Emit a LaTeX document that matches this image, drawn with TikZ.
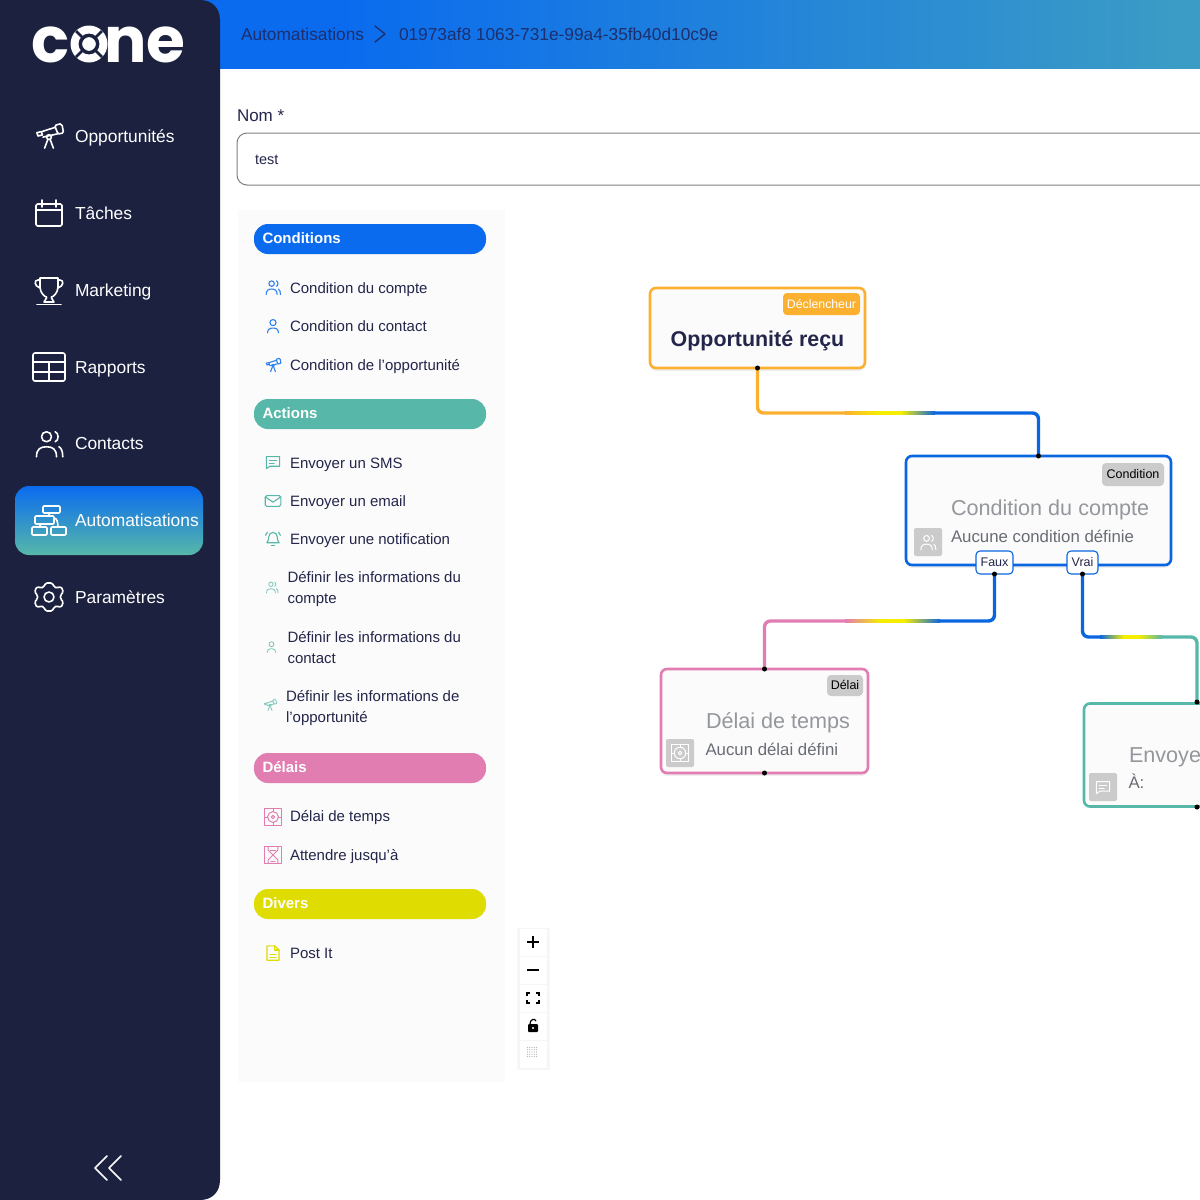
\documentclass[tikz,border=0pt]{standalone}
\usepackage{fontspec}
\setmainfont{Liberation Sans}
\newfontfamily\logofont{Poppins}
\usetikzlibrary{shadows,calc}
\definecolor{navy}{HTML}{1C2140}
\definecolor{hdrL}{HTML}{0A6BEF}
\definecolor{hdrR}{HTML}{3C9DC4}
\definecolor{crumb}{HTML}{1C2F6E}
\definecolor{cblue}{HTML}{0A66E0}
\definecolor{cteal}{HTML}{57B8A9}
\definecolor{cpink}{HTML}{E27DB1}
\definecolor{cyell}{HTML}{DEDC00}
\definecolor{corange}{HTML}{FBB12F}
\definecolor{panel}{HTML}{FBFBFB}
\definecolor{itemtxt}{HTML}{23264A}
\definecolor{tagg}{HTML}{CBCBCB}
\definecolor{ttl}{HTML}{94979C}
\definecolor{sub}{HTML}{686C74}
\definecolor{lineY}{HTML}{F6EE00}
\pgfdeclarehorizontalshading{hdrshade}{100bp}{color(0bp)=(hdrL); color(32bp)=(hdrL); color(75bp)=(hdrR); color(100bp)=(hdrR)}
\pgfdeclarehorizontalshading{gradOB}{100bp}{color(0bp)=(corange); color(25bp)=(corange); color(44bp)=(lineY); color(56bp)=(lineY); color(75bp)=(cblue); color(100bp)=(cblue)}
\pgfdeclarehorizontalshading{gradPB}{100bp}{color(0bp)=(cpink); color(25bp)=(cpink); color(44bp)=(lineY); color(56bp)=(lineY); color(75bp)=(cblue); color(100bp)=(cblue)}
\pgfdeclarehorizontalshading{gradBT}{100bp}{color(0bp)=(cblue); color(25bp)=(cblue); color(44bp)=(lineY); color(56bp)=(lineY); color(75bp)=(cteal); color(100bp)=(cteal)}
\tikzset{
 every node/.style={inner sep=0pt,outer sep=0pt},
 navtxt/.style={anchor=west,text=white,text height=15pt,text depth=3pt,font=\fontsize{17.4}{20}\selectfont},
 itemlab/.style={anchor=west,text=itemtxt,text height=13pt,text depth=3pt,font=\fontsize{15}{21}\selectfont},
 itemtwo/.style={anchor=west,text=itemtxt,align=left,font=\fontsize{15}{21}\selectfont},
 pilltxt/.style={anchor=west,text=white,text height=13pt,text depth=3.6pt,font=\fontsize{15}{18}\selectfont\bfseries},
 crumbtxt/.style={anchor=west,text=crumb,text height=15pt,text depth=3pt,font=\fontsize{17.3}{20}\selectfont},
 pill/.style={rounded corners=14pt},
 flow/.style={draw,line width=2.6pt,rounded corners=6pt,fill=panel,
   drop shadow={opacity=.12,shadow xshift=0pt,shadow yshift=-3pt}},
 flowln/.style={line width=3.4pt,rounded corners=6pt},
 tagbox/.style={rounded corners=4pt,fill=tagg},
 tagtxt/.style={text=black,text height=11pt,text depth=2.5pt,font=\fontsize{12.5}{14}\selectfont},
 ttltxt/.style={anchor=west,text=ttl,text height=16pt,text depth=2pt,font=\fontsize{21.6}{26}\selectfont},
 subtxt/.style={anchor=west,text=sub,text height=14pt,text depth=3pt,font=\fontsize{16.8}{20}\selectfont},
 outtag/.style={draw=cblue,line width=1.1pt,fill=white,rounded corners=4pt,text=itemtxt,text height=11pt,text depth=2.5pt,font=\fontsize{12.5}{14}\selectfont},
 ctrl/.style={fill=white,draw=black!4,line width=.6pt},
 ic/.style={line width=1.1pt,line cap=round,line join=round},
 % icons drawn in a 24-unit box centred on the origin, y pointing down
 ic users/.pic={
   \draw[pic actions] (-2,-5) circle[radius=4];
   \draw[pic actions] (-10,11) .. controls (-10,5) and (-7,3) .. (-2,3) .. controls (3,3) and (6,5) .. (6,11);
   \draw[pic actions] (5,-9) .. controls (8,-8) and (8,-2) .. (5,-1);
   \draw[pic actions] (8,3) .. controls (10,4) and (11,7) .. (11,11);},
 ic user/.pic={
   \draw[pic actions] (0,-5) circle[radius=4.5];
   \draw[pic actions] (-8,10) .. controls (-8,5) and (-5,3) .. (0,3) .. controls (5,3) and (8,5) .. (8,10);},
 ic scope/.pic={
   \draw[pic actions] (-11,-3) -- (-10,0) -- (-6,-1) -- (-7,-4) -- cycle;
   \draw[pic actions] (-6.5,-4) -- (6,-8) (8,-2) -- (-5.5,1);
   \draw[pic actions] (6.5,-10) -- (10,-11) .. controls (11,-11) and (11.5,-10.5) .. (12,-9.5) -- (13,-4) .. controls (13,-3) and (12.5,-2.5) .. (12,-2.5) -- (9,-2) .. controls (8,-2) and (8,-2.5) .. (7.5,-3.5) -- (5.5,-8.5) .. controls (5.5,-9.5) and (6,-10) .. (6.5,-10) -- cycle;
   \draw[pic actions] (0,1) circle[radius=2.2];
   \draw[pic actions] (-1,3) -- (-4,11) (1,3) -- (4,11);},
 ic cal/.pic={
   \draw[pic actions,rounded corners=1.5pt] (-13,-9) rectangle (13,13);
   \draw[pic actions] (-13,-3) -- (13,-3) (-7,-13) -- (-7,-6) (7,-13) -- (7,-6);},
 ic cup/.pic={
   \draw[pic actions] (-9,-12) -- (9,-12) -- (9,-3) .. controls (9,3) and (4,7) .. (2.5,7) -- (2.5,8) -- (5,12) -- (-5,12) -- (-2.5,8) -- (-2.5,7) .. controls (-4,7) and (-9,3) .. (-9,-3) -- cycle;
   \draw[pic actions] (-9,-10) -- (-11,-10) .. controls (-15,-10) and (-15,-4) .. (-9,-2);
   \draw[pic actions] (9,-10) -- (11,-10) .. controls (15,-10) and (15,-4) .. (9,-2);
   \draw[pic actions] (-12,14.5) -- (12,14.5);},
 ic table/.pic={
   \draw[pic actions,rounded corners=2pt] (-16,-14) rectangle (16,14);
   \draw[pic actions] (-16,-5) -- (16,-5) (-16,5) -- (16,5) (0,-5) -- (0,14);},
 ic flow/.pic={
   \draw[pic actions,rounded corners=1pt] (-6,-14) rectangle (11,-7);
   \draw[pic actions,rounded corners=1pt] (-14,-4) rectangle (5,4);
   \draw[pic actions,rounded corners=1pt] (-17,7) rectangle (-2,15);
   \draw[pic actions,rounded corners=1pt] (2,7) rectangle (17,15);
   \draw[pic actions] (0,-7) -- (0,-4) (-9,4) -- (-9,7);
   \draw[pic actions] (5,-2) .. controls (8,-2) and (9,3) .. (9,7);},
 ic gear/.pic={
   \draw[pic actions] (0,0) circle[radius=5];
   \draw[pic actions,rounded corners=1.5pt] (-3.5,-14) -- (3.5,-14) -- (5,-10) -- (8,-9) -- (12,-10.5) -- (14.5,-5) -- (11.5,-2) -- (11.5,2) -- (14.5,5) -- (12,10.5) -- (8,9) -- (5,10) -- (3.5,14) -- (-3.5,14) -- (-5,10) -- (-8,9) -- (-12,10.5) -- (-14.5,5) -- (-11.5,2) -- (-11.5,-2) -- (-14.5,-5) -- (-12,-10.5) -- (-8,-9) -- (-5,-10) -- cycle;},
 ic chat/.pic={
   \draw[pic actions] (-11,-9) -- (11,-9) -- (11,7) -- (-5,7) -- (-11,11) -- cycle;
   \draw[pic actions] (-6,-3) -- (6,-3) (-6,2) -- (2,2);},
 ic mail/.pic={
   \draw[pic actions,rounded corners=1.5pt] (-13,-9) rectangle (13,9);
   \draw[pic actions] (-13,-7) -- (0,2) -- (13,-7);},
 ic bell/.pic={
   \draw[pic actions] (-10,6) .. controls (-7,3) and (-7,0) .. (-7,-3) .. controls (-7,-13) and (7,-13) .. (7,-3) .. controls (7,0) and (7,3) .. (10,6) -- cycle;
   \draw[pic actions] (-2.5,10) -- (2.5,10);
   \draw[pic actions] (-9,-11) -- (-12,-6) (9,-11) -- (12,-6);},
 ic timer/.pic={
   \draw[pic actions] (-12,-12) rectangle (12,12);
   \draw[pic actions] (0,0) circle[radius=8];
   \draw[pic actions] (0,0) circle[radius=2.5];
   \draw[pic actions] (-12,0) -- (-8,0) (8,0) -- (12,0) (0,-12) -- (0,-8) (0,8) -- (0,12);},
 ic glass/.pic={
   \draw[pic actions] (-12,-12) rectangle (12,12);
   \draw[pic actions] (-7,-12) -- (-7,-7) -- (7,7) -- (7,12) (7,-12) -- (7,-7) -- (-7,7) -- (-7,12);
   \draw[pic actions] (-4,-6) -- (4,-6) (-3,10) -- (3,10);},
 ic note/.pic={
   \draw[pic actions] (-10,-12) -- (3,-12) -- (10,-5) -- (10,12) -- (-10,12) -- cycle;
   \draw[pic actions] (3,-12) -- (3,-5) -- (10,-5);
   \draw[pic actions] (-5,2) -- (5,2) (-5,7) -- (5,7);},
}
\newcommand{\sideitem}[4]{%
  \pic[draw=white,ic,line width=1.6pt,scale=#4] at (49,#1) {#2};
  \node[navtxt] at (75,#1) {#3};}
\begin{document}
\begin{tikzpicture}[x=1pt,y=-1pt]
\useasboundingbox (0,0) rectangle (1200,1200);
\fill[white] (0,0) rectangle (1200,1200);
% header
\shade[shading=hdrshade] (200,0) rectangle (1200,68);
\node[crumbtxt] (crumbA) at (241,34) {Automatisations};
\coordinate (chevA) at (375,26);
\draw[crumb,line width=1.4pt,line cap=round,line join=round] (chevA) -- ++(10,8) -- ++(-10,8);
\node[crumbtxt] (crumbB) at (399,34) {01973af8 1063-731e-99a4-35fb40d10c9e};
% sidebar
\fill[navy] (0,0) -- (200,0) .. controls (212,0) and (220,8) .. (220,20) -- (220,1180) .. controls (220,1192) and (212,1200) .. (200,1200) -- (0,1200) -- cycle;
% logo
\node[anchor=base west,text=white,font=\logofont\fontsize{63}{63}\selectfont\bfseries] (logoC) at (31,62) {c};
\node[anchor=base west,text=white,font=\logofont\fontsize{63}{63}\selectfont\bfseries] (logoN) at (104.5,62) {ne};
\fill[white] (89,44) circle[radius=18.5];
\draw[navy,line width=2.8pt] (76,31) -- (102,57) (102,31) -- (76,57);
\draw[navy,line width=3.6pt] (89,44) circle[radius=8.6];
\fill[white] (89,44) circle[radius=6.6];
% sidebar selection
\shade[top color=hdrL,bottom color=cteal,rounded corners=14pt] (15,486) rectangle (203,555);
\sideitem{136}{ic scope}{Opportunités}{1.1}
\sideitem{213}{ic cal}{Tâches}{1}
\sideitem{290}{ic cup}{Marketing}{1}
\sideitem{367}{ic table}{Rapports}{1}
\sideitem{443}{ic users}{Contacts}{1.25}
\sideitem{520}{ic flow}{Automatisations}{1}
\sideitem{597}{ic gear}{Paramètres}{1}
\coordinate (collapse) at (108,1168);
\draw[white,line width=1.5pt,line cap=round,line join=round] ($(collapse)+(-1,-12)$) -- ++(-12,12) -- ++(12,12) ($(collapse)+(13,-12)$) -- ++(-12,12) -- ++(12,12);
% name field
\node[anchor=west,text=itemtxt,text height=15pt,text depth=3pt,font=\fontsize{17}{20}\selectfont] (nomlab) at (237,115) {Nom *};
\draw[black!50,line width=1pt,fill=white,rounded corners=10pt] (237,133) rectangle (1225,185);
\node[anchor=west,text=itemtxt,text height=13pt,text depth=3pt,font=\fontsize{14.5}{17}\selectfont] (nomval) at (255,159) {test};
% palette panel
\fill[panel] (238,210) rectangle (505,1082);
\fill[hdrL,pill] (254,224) rectangle (486,254);
\node[pilltxt] (pA) at (262.5,239) {Conditions};
\fill[cteal,pill] (254,399) rectangle (486,429);
\node[pilltxt] (pB) at (262.5,414) {Actions};
\fill[cpink,pill] (254,753) rectangle (486,783);
\node[pilltxt] (pC) at (262.5,768) {Délais};
\fill[cyell,pill] (254,889) rectangle (486,919);
\node[pilltxt] (pD) at (262.5,904) {Divers};
% palette items
\pic[draw=hdrL!85,ic,scale=.68] at (273,287) {ic users};
\node[itemlab] (i1) at (290,288) {Condition du compte};
\pic[draw=hdrL!85,ic,scale=.68] at (273,326) {ic user};
\node[itemlab] (i2) at (290,326) {Condition du contact};
\pic[draw=hdrL!85,ic,scale=.6] at (273,365) {ic scope};
\node[itemlab] (i3) at (290,365) {Condition de l'opportunité};
\pic[draw=cteal,ic,scale=.6] at (273,462) {ic chat};
\node[itemlab] (i4) at (290,463) {Envoyer un SMS};
\pic[draw=cteal,ic,scale=.6] at (273,501) {ic mail};
\node[itemlab] (i5) at (290,501) {Envoyer un email};
\pic[draw=cteal,ic,scale=.62] at (273,539) {ic bell};
\node[itemlab] (i6) at (290,539.5) {Envoyer une notification};
\pic[draw=cteal!80,ic,line width=.8pt,scale=.55] at (272,587) {ic users};
\node[itemtwo] (i7) at (287.5,589) {Définir les informations du\\compte};
\pic[draw=cteal!80,ic,line width=.8pt,scale=.55] at (271.5,647) {ic user};
\node[itemtwo] (i8) at (287.5,648) {Définir les informations du\\contact};
\pic[draw=cteal!80,ic,line width=.8pt,scale=.5] at (270,705) {ic scope};
\node[itemtwo] (i9) at (286,708.5) {Définir les informations de\\l'opportunité};
\pic[draw=cpink,ic,line width=1pt,scale=.68] at (273,817) {ic timer};
\node[itemlab] (i10) at (290,816.5) {Délai de temps};
\pic[draw=cpink,ic,line width=1pt,scale=.68] at (273,855) {ic glass};
\node[itemlab] (i11) at (290,855) {Attendre jusqu'à};
\pic[draw=cyell,ic,scale=.6] at (273,953) {ic note};
\node[itemlab] (i12) at (290,953) {Post It};
% zoom controls
\fill[black!3] (517,928) rectangle (550,1070);
\node[ctrl,minimum width=28pt,minimum height=27.6pt] (z1) at (533,942) {};
\node[ctrl,minimum width=28pt,minimum height=27.6pt] (z2) at (533,970) {};
\node[ctrl,minimum width=28pt,minimum height=27.6pt] (z3) at (533,998) {};
\node[ctrl,minimum width=28pt,minimum height=27.6pt] (z4) at (533,1026) {};
\node[ctrl,minimum width=28pt,minimum height=27.6pt] (z5) at (533,1054) {};
\draw[black,line width=1.5pt] ($(z1)+(-6,0)$) -- ($(z1)+(6,0)$) ($(z1)+(0,-6)$) -- ($(z1)+(0,6)$);
\draw[black,line width=1.5pt] ($(z2)+(-6,0)$) -- ($(z2)+(6,0)$);
\draw[black,line width=1.3pt] ($(z3)+(-6,-2)$) -- ++(0,-3) -- ++(3,0) ($(z3)+(3,-5)$) -- ++(3,0) -- ++(0,3) ($(z3)+(6,2)$) -- ++(0,3) -- ++(-3,0) ($(z3)+(-3,5)$) -- ++(-3,0) -- ++(0,-3);
\fill[black,rounded corners=1pt] ($(z4)+(-5,-2)$) rectangle ($(z4)+(5,6)$);
\draw[black,line width=1.2pt] ($(z4)+(-3,-2)$) .. controls ($(z4)+(-3,-7)$) and ($(z4)+(2,-8)$) .. ($(z4)+(3,-5)$);
\fill[white] ($(z4)+(0,2)$) circle[radius=1.1];
\foreach \i in {-4.5,-2.25,0,2.25,4.5}\foreach \j in {-4.5,-2.25,0,2.25,4.5}{\fill[black!28] ($(z5)+(\i-1,\j-2)$) circle[radius=.6];}
% flow nodes
\node[flow,draw=corange,minimum width=215pt,minimum height=80pt] (trig) at (757.5,328) {};
\node[flow,draw=cblue,minimum width=265pt,minimum height=109pt] (cond) at (1038.5,510.5) {};
\node[flow,draw=cpink,minimum width=207pt,minimum height=104pt] (delay) at (764.5,721) {};
\draw[cteal,line width=2.6pt,rounded corners=6pt,fill=panel] (1210,703.5) -- (1084,703.5) -- (1084,806.5) -- (1210,806.5);
% trigger content
\node[tagbox,fill=corange,minimum width=77pt,minimum height=22pt] (trigtag) at (821.5,304) {};
\node[text=white,text height=11pt,text depth=2.5pt,font=\fontsize{12.3}{14}\selectfont] at (trigtag) {Déclencheur};
\node[text=itemtxt,text height=16.5pt,text depth=2.6pt,font=\fontsize{21.4}{26}\selectfont\bfseries] (trigttl) at (757.5,340) {Opportunité reçu};
% condition content
\node[tagbox,minimum width=62pt,minimum height=23pt] (condtag) at (1133,474.5) {};
\node[tagtxt] at (condtag) {Condition};
\node[ttltxt] (condttl) at (951,508) {Condition du compte};
\node[subtxt] (condsub) at (951,536.5) {Aucune condition définie};
\fill[tagg,rounded corners=2pt] (914,528) rectangle (942,556);
\pic[draw=white,ic,line width=1pt,scale=.72] at (928,542) {ic users};
% delay content
\node[tagbox,minimum width=36pt,minimum height=21pt] (delaytag) at (845,685.5) {};
\node[tagtxt] at (delaytag) {Délai};
\node[ttltxt] (delayttl) at (706,721) {Délai de temps};
\node[subtxt] (delaysub) at (705.5,750) {Aucun délai défini};
\fill[tagg,rounded corners=2pt] (666,739) rectangle (694,767);
\pic[draw=white,ic,line width=1pt,scale=.72] at (680,753) {ic timer};
% send content
\node[ttltxt] (sendttl) at (1129,755) {Envoye};
\node[subtxt] (sendsub) at (1128.5,783) {À:};
\fill[tagg,rounded corners=2pt] (1089,773) rectangle (1117,801);
\pic[draw=white,ic,line width=1pt,scale=.6] at (1103,787) {ic chat};
% output tags
\node[outtag,minimum width=37pt,minimum height=23pt] (faux) at (994.5,562.5) {Faux};
\node[outtag,minimum width=31pt,minimum height=23pt] (vrai) at (1082.5,562.5) {Vrai};
% handles
\coordinate (trigout) at (trig.south);
\coordinate (condin) at (cond.north);
\coordinate (fauxout) at (faux.south);
\coordinate (vraiout) at (vrai.south);
\coordinate (delayin) at (delay.north);
\coordinate (delayout) at (delay.south);
\coordinate (sendin) at (1197,702);
\coordinate (sendout) at (1197,807);
% connectors
\coordinate (c1a) at (845,413);\coordinate (c1b) at (935,413);
\draw[flowln,corange] (trigout) |- (c1a);
\shade[shading=gradOB] ($(c1a)+(0,-1.7)$) rectangle ($(c1b)+(0,1.7)$);
\draw[flowln,cblue] (c1b) -| (condin);
\coordinate (c2a) at (845,621);\coordinate (c2b) at (940,621);
\draw[flowln,cpink] (delayin) |- (c2a);
\shade[shading=gradPB] ($(c2a)+(0,-1.7)$) rectangle ($(c2b)+(0,1.7)$);
\draw[flowln,cblue] (c2b) -| (fauxout);
\coordinate (c3a) at (1100,637);\coordinate (c3b) at (1162,637);
\draw[flowln,cblue] (vraiout) |- (c3a);
\shade[shading=gradBT] ($(c3a)+(0,-1.7)$) rectangle ($(c3b)+(0,1.7)$);
\draw[flowln,cteal] (c3b) -| (sendin);
% handle dots
\foreach \p in {trigout,condin,fauxout,vraiout,delayin,delayout,sendin,sendout}{\fill[black] (\p) circle[radius=2.5];}
\end{tikzpicture}
\end{document}
